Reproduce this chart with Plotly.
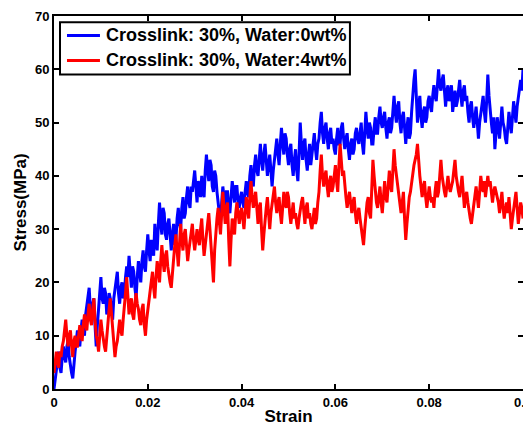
import numpy as np
import plotly.graph_objects as go

strain_step = 0.00025
strain = [round(i * strain_step, 5) for i in range(401)]

stress_water0 = [
    0, 2, 4, 6, 7, 4, 3, 6, 8, 6, 5, 8, 9, 6, 4, 3, 2, 5, 7, 9,
    11, 9, 8, 11, 13, 12, 10, 14, 16, 18, 19, 15, 14, 16, 17, 12, 8, 12, 15, 18,
    21, 17, 16, 19, 18, 14, 15, 18, 17, 15, 13, 17, 19, 21, 22, 18, 16, 19, 20, 17,
    18, 21, 23, 21, 25, 22, 19, 23, 22, 19, 17, 21, 24, 22, 20, 24, 26, 23, 22, 26,
    29, 26, 24, 28, 27, 25, 31, 28, 26, 31, 35, 31, 29, 34, 33, 29, 28, 31, 32, 29,
    26, 29, 31, 27, 28, 32, 34, 31, 30, 34, 36, 32, 33, 36, 38, 35, 34, 38, 37, 39,
    41, 38, 35, 39, 38, 36, 40, 37, 36, 41, 44, 41, 39, 43, 42, 38, 37, 41, 40, 37,
    35, 33, 31, 35, 38, 36, 34, 37, 37, 34, 33, 36, 39, 37, 35, 38, 38, 35, 34, 36,
    37, 35, 34, 37, 39, 37, 36, 40, 42, 39, 38, 42, 44, 41, 40, 43, 46, 43, 41, 44,
    46, 43, 40, 42, 44, 41, 38, 41, 43, 45, 47, 44, 42, 46, 49, 46, 44, 48, 47, 44,
    42, 45, 46, 42, 40, 43, 45, 41, 39, 44, 50, 46, 43, 46, 47, 43, 41, 44, 46, 42,
    44, 46, 48, 45, 43, 46, 47, 50, 52, 48, 46, 49, 50, 47, 45, 48, 49, 46, 47, 45,
    44, 47, 49, 46, 46, 49, 50, 47, 45, 47, 48, 45, 43, 46, 47, 44, 45, 48, 49, 47,
    46, 48, 50, 46, 44, 48, 52, 49, 47, 50, 49, 46, 46, 49, 51, 48, 48, 51, 53, 50,
    49, 51, 52, 49, 47, 50, 51, 48, 49, 52, 55, 52, 50, 53, 54, 50, 48, 51, 52, 49,
    46, 49, 51, 47, 48, 52, 56, 58, 60, 54, 50, 53, 55, 51, 49, 52, 53, 50, 51, 54,
    55, 53, 52, 55, 57, 55, 54, 57, 60, 57, 56, 58, 59, 56, 53, 56, 57, 54, 55, 57,
    52, 54, 56, 53, 54, 56, 58, 55, 53, 56, 57, 54, 55, 52, 50, 53, 54, 51, 49, 51,
    53, 50, 47, 50, 52, 54, 55, 52, 50, 54, 59, 55, 52, 50, 48, 51, 45, 48, 51, 49,
    47, 50, 53, 50, 49, 47, 46, 49, 52, 50, 48, 51, 54, 52, 50, 53, 55, 57, 58, 56,
    60,
]

stress_water4 = [
    3, 5, 7, 5, 4, 7, 6, 8, 9, 11, 13, 10, 8, 10, 11, 8, 6, 9, 10, 8,
    8, 10, 12, 10, 9, 12, 14, 12, 11, 14, 16, 13, 12, 15, 17, 13, 10, 9, 7, 10,
    13, 11, 9, 8, 7, 10, 12, 15, 17, 14, 11, 8, 6, 8, 9, 11, 13, 11, 10, 13,
    15, 18, 21, 17, 14, 16, 17, 14, 13, 16, 18, 16, 15, 13, 12, 15, 16, 12, 10, 13,
    15, 17, 18, 20, 22, 19, 17, 21, 24, 22, 20, 24, 27, 24, 22, 25, 26, 23, 21, 20,
    19, 22, 24, 27, 29, 25, 23, 27, 31, 28, 26, 29, 30, 27, 24, 26, 28, 30, 31, 28,
    26, 28, 30, 28, 27, 30, 32, 28, 25, 27, 29, 31, 33, 30, 27, 23, 20, 26, 30, 32,
    34, 31, 29, 33, 37, 34, 31, 34, 35, 28, 23, 28, 32, 30, 29, 33, 35, 33, 31, 33,
    34, 32, 30, 33, 36, 34, 32, 36, 39, 36, 34, 36, 37, 34, 31, 34, 35, 30, 26, 29,
    32, 34, 36, 33, 30, 33, 35, 37, 38, 35, 33, 35, 36, 33, 31, 34, 37, 35, 34, 37,
    36, 33, 31, 33, 35, 32, 33, 31, 30, 32, 34, 35, 36, 33, 31, 34, 35, 32, 33, 31,
    30, 32, 34, 31, 32, 35, 37, 41, 44, 40, 38, 40, 41, 38, 36, 39, 40, 37, 38, 40,
    42, 39, 37, 42, 46, 43, 40, 41, 38, 36, 34, 36, 37, 35, 33, 35, 36, 33, 31, 33,
    34, 32, 30, 28, 27, 30, 33, 35, 36, 33, 32, 38, 43, 40, 37, 35, 34, 36, 38, 35,
    33, 36, 39, 36, 35, 38, 41, 38, 37, 41, 45, 42, 40, 38, 36, 34, 33, 35, 37, 32,
    28, 31, 34, 36, 37, 39, 40, 42, 43, 44, 46, 42, 40, 38, 36, 38, 39, 36, 34, 36,
    38, 36, 35, 36, 34, 37, 39, 36, 37, 40, 43, 40, 38, 37, 36, 38, 40, 38, 37, 38,
    39, 41, 43, 40, 38, 37, 36, 38, 40, 37, 34, 36, 37, 35, 33, 32, 31, 33, 35, 36,
    38, 36, 34, 37, 40, 38, 37, 39, 36, 38, 40, 38, 39, 37, 35, 37, 38, 37, 36, 35,
    33, 35, 37, 34, 32, 34, 35, 33, 36, 33, 30, 32, 34, 36, 37, 34, 31, 33, 35, 34,
    32,
]

series_names = ["Crosslink: 30%, Water:0wt%", "Crosslink: 30%, Water:4wt%"]
series_colors = ["#0000ff", "#ff0000"]

x_ticks = [0, 0.02, 0.04, 0.06, 0.08, 0.1]
x_tick_labels = ["0", "0.02", "0.04", "0.06", "0.08", "0.1"]
y_ticks = [0, 10, 20, 30, 40, 50, 60, 70]
y_tick_labels = ["0", "10", "20", "30", "40", "50", "60", "70"]

font_family = "Liberation Sans, Arial, sans-serif"

fig = go.Figure()
for ys, name, color in zip([stress_water0, stress_water4], series_names, series_colors):
    fig.add_trace(go.Scatter(
        x=strain, y=ys, mode="lines", name=name,
        line=dict(color=color, width=3),
    ))

axis_common = dict(
    showline=True, linecolor="black", linewidth=2, mirror="ticks",
    ticks="inside", ticklen=5, tickwidth=2, tickcolor="black",
    showgrid=False, zeroline=False, automargin=False,
    ticklabeloverflow="allow",
    tickfont=dict(family=font_family, size=13, color="black", weight="bold"),
)

# The page body adds an 8px offset, so the figure is sized to the remaining window
fig.update_layout(
    width=523, height=420,
    margin=dict(l=46, r=8, t=8, b=39),
    paper_bgcolor="white", plot_bgcolor="white",
    showlegend=False,
    xaxis=dict(
        range=[0, 0.1], tickvals=x_ticks, ticktext=x_tick_labels,
        title=dict(text="Strain", standoff=2,
                   font=dict(family=font_family, size=17, color="black", weight="bold")),
        **axis_common,
    ),
    yaxis=dict(
        range=[0, 70], tickvals=y_ticks, ticktext=y_tick_labels,
        title=dict(text="Stress(MPa)", standoff=4,
                   font=dict(family=font_family, size=17, color="black", weight="bold")),
        **axis_common,
    ),
)

# Legend box drawn in the plot-area (paper) coordinates, MATLAB style
leg_x0, leg_x1 = 0.0128, 0.631
leg_y0, leg_y1 = 0.843, 0.983
row_y = [0.948, 0.881]
fig.add_shape(type="rect", xref="paper", yref="paper",
              x0=leg_x0, x1=leg_x1, y0=leg_y0, y1=leg_y1,
              line=dict(color="black", width=2), fillcolor="white", layer="above")
for ry, name, color in zip(row_y, series_names, series_colors):
    fig.add_shape(type="line", xref="paper", yref="paper",
                  x0=0.0277, x1=0.098, y0=ry, y1=ry,
                  line=dict(color=color, width=3), layer="above")
    fig.add_annotation(xref="paper", yref="paper", x=0.1066, y=ry,
                       xanchor="left", yanchor="middle", showarrow=False,
                       text=name,
                       font=dict(family=font_family, size=18, color="black", weight="bold"))

fig.write_html("out.html")
